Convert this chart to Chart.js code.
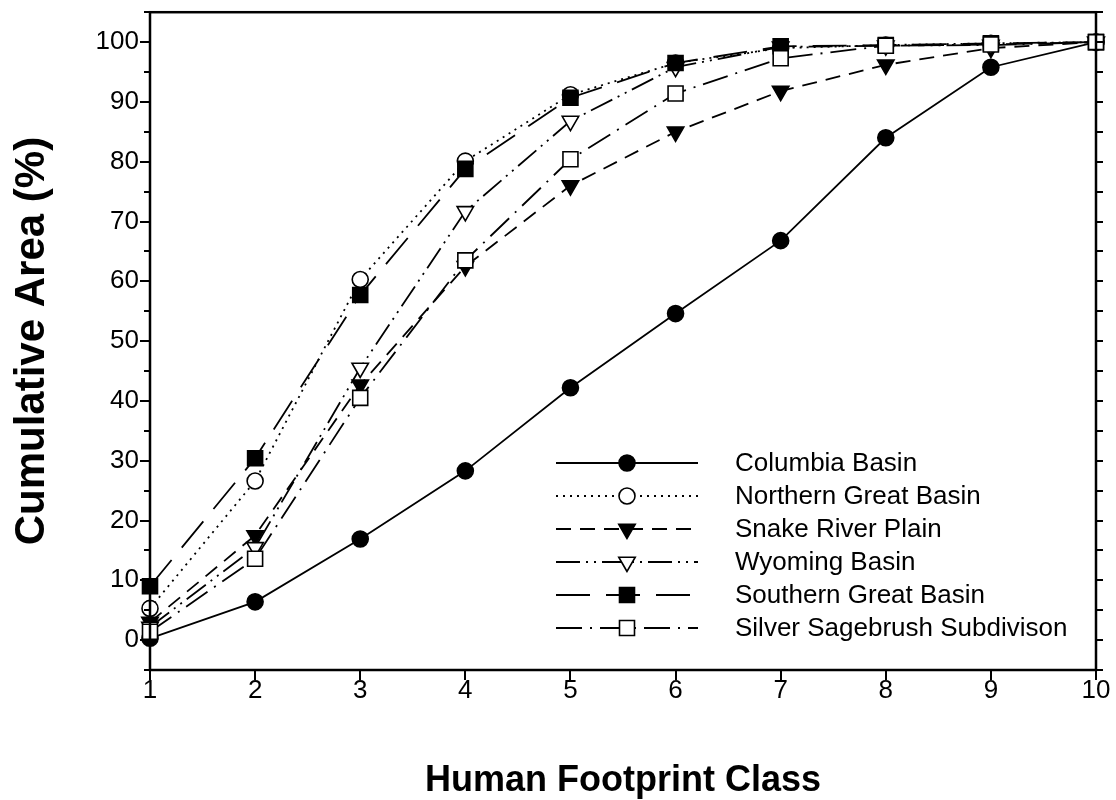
<!DOCTYPE html>
<html>
<head>
<meta charset="utf-8">
<script src="https://cdn.jsdelivr.net/npm/chart.js"></script>
<style>
  html, body { margin: 0; padding: 0; background: #fff; }
  #c { display: block; }
</style>
</head>
<body>
<canvas id="c" width="1116" height="800" style="width:1116px;height:800px"></canvas>
<script>
// ---- Data ----
const footprintClasses = [1, 2, 3, 4, 5, 6, 7, 8, 9, 10];
const columbiaBasin      = [0.3, 6.4, 16.9, 28.3, 42.2, 54.6, 66.8, 84.0, 95.8, 100];
const northernGreatBasin = [5.3, 26.6, 60.3, 80.1, 91.2, 96.5, 99.0, 99.5, 99.8, 100];
const snakeRiverPlain    = [3.0, 17.5, 42.7, 62.5, 76.0, 85.0, 91.8, 96.2, 99.0, 100];
const wyomingBasin       = [2.2, 15.5, 45.5, 71.7, 86.8, 95.8, 99.2, 99.4, 99.5, 100];
const southernGreatBasin = [9.0, 30.4, 57.7, 78.8, 90.7, 96.5, 99.3, 99.5, 99.8, 100];
const silverSagebrush    = [1.4, 13.6, 40.5, 63.5, 80.4, 91.4, 97.3, 99.4, 99.6, 100];
const seriesNames = ['Columbia Basin', 'Northern Great Basin', 'Snake River Plain',
                     'Wyoming Basin', 'Southern Great Basin', 'Silver Sagebrush Subdivison'];
const seriesValues = [columbiaBasin, northernGreatBasin, snakeRiverPlain,
                      wyomingBasin, southernGreatBasin, silverSagebrush];
const yTickLabelValues = [0, 10, 20, 30, 40, 50, 60, 70, 80, 90, 100];
const xAxisTitle = 'Human Footprint Class';
const yAxisTitle = 'Cumulative Area (%)';

// ---- Styles ----
const FONT = "'Liberation Sans', Arial, sans-serif";
const styles = [
  { dash: [],                 pointStyle: 'circle',   radius: 8,    rot: 0,   fill: '#000' },
  { dash: [2, 5],             pointStyle: 'circle',   radius: 8,    rot: 0,   fill: '#fff' },
  { dash: [15, 9],            pointStyle: 'triangle', radius: 9.5,  rot: 180, fill: '#000' },
  { dash: [24, 6, 2, 6, 2, 6],pointStyle: 'triangle', radius: 9.5,  rot: 180, fill: '#fff' },
  { dash: [34, 16],           pointStyle: 'rect',     radius: 10.6, rot: 0,   fill: '#000' },
  { dash: [26, 8, 2, 8],      pointStyle: 'rect',     radius: 10.6, rot: 0,   fill: '#fff' }
];

function drawMarker(ctx, st, x, y) {
  const r = st.radius;
  ctx.save();
  ctx.setLineDash([]);
  ctx.fillStyle = st.fill;
  ctx.strokeStyle = '#000';
  ctx.lineWidth = 1.6;
  ctx.beginPath();
  if (st.pointStyle === 'circle') {
    ctx.arc(x, y, r, 0, Math.PI * 2);
  } else if (st.pointStyle === 'rect') {
    const s = Math.SQRT1_2 * r;
    ctx.rect(x - s, y - s, 2 * s, 2 * s);
  } else {
    let a = st.rot * Math.PI / 180;
    ctx.moveTo(x + Math.sin(a) * r, y - Math.cos(a) * r);
    a += 2 * Math.PI / 3;
    ctx.lineTo(x + Math.sin(a) * r, y - Math.cos(a) * r);
    a += 2 * Math.PI / 3;
    ctx.lineTo(x + Math.sin(a) * r, y - Math.cos(a) * r);
    ctx.closePath();
  }
  ctx.fill();
  ctx.stroke();
  ctx.restore();
}

const framePlugin = {
  id: 'frame',
  afterDatasetsDraw(chart) {
    const { ctx, chartArea: a, scales: { x, y } } = chart;
    ctx.save();
    ctx.strokeStyle = '#000';
    ctx.setLineDash([]);
    ctx.lineWidth = 2;
    y.ticks.forEach(t => {
      const py = Math.round(y.getPixelForValue(t.value));
      const major = Math.round(t.value) % 10 === 0;
      ctx.beginPath();
      ctx.moveTo(a.left - (major ? 10 : 6), py); ctx.lineTo(a.left, py);
      ctx.moveTo(a.right, py); ctx.lineTo(a.right + 7, py);
      ctx.stroke();
    });
    x.ticks.forEach(t => {
      const px = Math.round(x.getPixelForValue(t.value));
      ctx.beginPath(); ctx.moveTo(px, a.bottom); ctx.lineTo(px, a.bottom + 10); ctx.stroke();
    });
    ctx.lineWidth = 2.5;
    ctx.strokeRect(a.left, a.top, a.right - a.left, a.bottom - a.top);
    ctx.restore();
  }
};

const legendPlugin = {
  id: 'customLegend',
  afterDraw(chart) {
    const ctx = chart.ctx;
    const x0 = 556, x1 = 698, xm = 627, xt = 735, y0 = 463, dy = 33;
    ctx.save();
    chart.data.datasets.forEach((ds, i) => {
      const st = styles[i];
      const yy = y0 + i * dy;
      ctx.strokeStyle = '#000';
      ctx.lineWidth = 1.8;
      ctx.setLineDash(st.dash);
      ctx.beginPath(); ctx.moveTo(x0, yy); ctx.lineTo(x1, yy); ctx.stroke();
      drawMarker(ctx, st, xm, yy);
      ctx.setLineDash([]);
      ctx.fillStyle = '#000';
      ctx.font = '26px ' + FONT;
      ctx.textAlign = 'left';
      ctx.textBaseline = 'middle';
      ctx.fillText(ds.label, xt, yy + 1);
    });
    ctx.restore();
  }
};

const datasets = seriesValues.map((vals, i) => ({
  label: seriesNames[i],
  data: footprintClasses.map((c, j) => ({ x: c, y: vals[j] })),
  borderColor: '#000',
  borderWidth: 1.8,
  borderDash: styles[i].dash,
  pointStyle: styles[i].pointStyle,
  pointRadius: styles[i].radius,
  pointRotation: styles[i].rot,
  pointBackgroundColor: styles[i].fill,
  pointBorderColor: '#000',
  pointBorderWidth: 1.6,
  fill: false,
  tension: 0,
  clip: false,
  order: seriesValues.length - 1 - i
}));

new Chart(document.getElementById('c'), {
  type: 'line',
  data: { datasets },
  options: {
    responsive: false,
    animation: false,
    devicePixelRatio: 1,
    layout: { padding: { top: 10, right: 20, left: 0, bottom: 0 } },
    plugins: { legend: { display: false }, tooltip: { enabled: false } },
    scales: {
      x: {
        type: 'linear', min: 1, max: 10,
        border: { display: false },
        grid: { display: false, drawTicks: false },
        ticks: { stepSize: 1, autoSkip: false, maxRotation: 0, color: '#000', padding: 5,
                 font: { family: FONT, size: 26, lineHeight: 1.2 } },
        title: { display: true, text: xAxisTitle, color: '#000', padding: { top: 0, bottom: 0 },
                 font: { family: FONT, size: 36, weight: 'bold', lineHeight: 1.05 } },
        afterFit(s) { s.height = 130; s.paddingLeft = 0; s.paddingRight = 0; }
      },
      y: {
        type: 'linear', min: -5, max: 105,
        border: { display: false },
        grid: { display: false, drawTicks: false },
        ticks: {
          stepSize: 5, autoSkip: false, color: '#000', padding: 11,
          font: { family: FONT, size: 26, lineHeight: 1.2 },
          callback: v => yTickLabelValues.includes(Math.round(v)) && Math.abs(v - Math.round(v)) < 1e-6
            ? String(Math.round(v)) : ''
        },
        title: { display: true, text: yAxisTitle, color: '#000', padding: { top: 10, bottom: 0 },
                 font: { family: FONT, size: 42, weight: 'bold', lineHeight: 1.05 } },
        afterFit(s) { s.width = 150; s.paddingTop = 0; s.paddingBottom = 0; }
      }
    }
  },
  plugins: [framePlugin, legendPlugin]
});
</script>
</body>
</html>
